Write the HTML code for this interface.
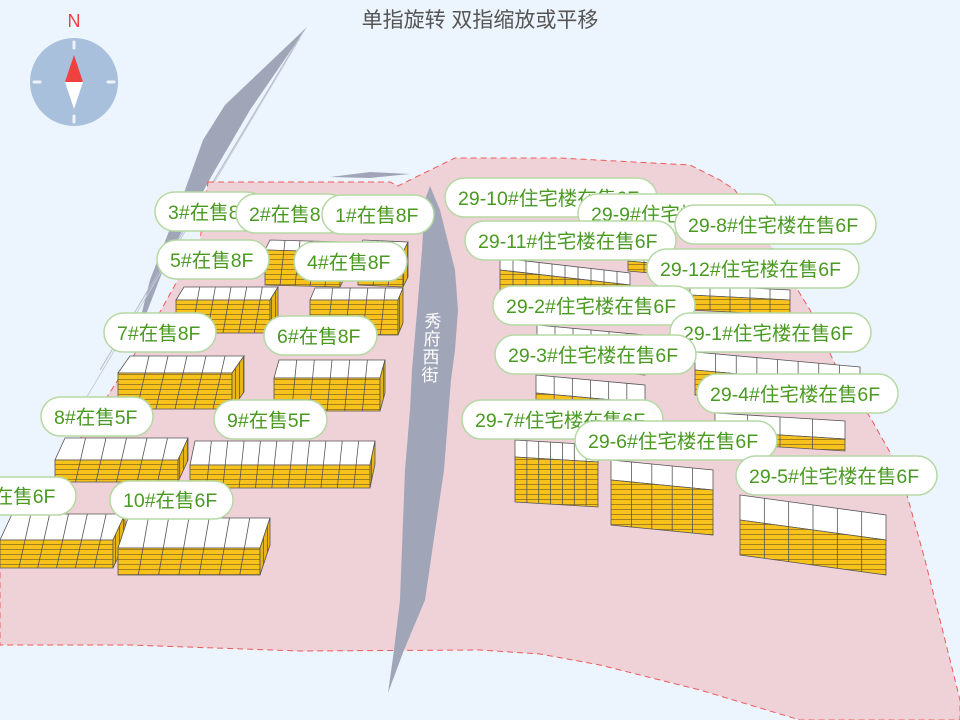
<!DOCTYPE html>
<html><head><meta charset="utf-8"><style>
html,body{margin:0;padding:0;background:#ecf4fd;}
svg{display:block;}
.lb rect{fill:#fff;stroke:#b5d9a4;stroke-width:1.5;}
.lb text{fill:#4a9a22;font-family:"Liberation Sans","Noto Sans CJK SC",sans-serif;font-size:19.5px;}
</style></head><body>
<svg id="s" width="960" height="720" viewBox="0 0 960 720" xmlns="http://www.w3.org/2000/svg">
<defs>
<pattern id="yl" width="20" height="5" patternUnits="userSpaceOnUse">
<rect width="20" height="5" fill="#f7c21c"/><line x1="0" y1="4.5" x2="20" y2="4.5" stroke="#8a6a20" stroke-width="0.8"/>
</pattern>
<pattern id="ys" width="4" height="5" patternUnits="userSpaceOnUse">
<rect width="4" height="5" fill="#e9b415"/><line x1="3.5" y1="0" x2="3.5" y2="5" stroke="#6a5a20" stroke-width="0.8"/>
</pattern>
</defs>
<rect width="960" height="720" fill="#ecf4fd"/>
<polygon points="307,27 250,110 215,170 190,215 165,265 140,330 135,340 150,280 185,190 203,140 225,105" fill="#a0a6b8"/>
<line x1="303" y1="32" x2="100" y2="370" stroke="#b5bccb" stroke-width="1"/>
<line x1="300" y1="38" x2="85" y2="400" stroke="#c5ccd8" stroke-width="1"/>
<polygon points="208,182 390,182 398,186 420,175 455,158 560,158 690,165 720,180 735,190 770,245 810,310 840,375 870,417 900,470 925,560 945,640 960,700 960,720 800,720 700,690 600,665 540,654 480,650 300,651 130,645 80,645 0,645 0,560 60,470 150,330 200,240" fill="#efd1d8" stroke="#ef5a5a" stroke-width="1" stroke-dasharray="6,4"/>
<polygon points="330,177 370,172 410,174 370,178" fill="#a0a6b8"/>
<polygon points="430,186 440,210 455,270 458,310 455,350 451,380 444,470 425,600 404,650 388,693 394,650 400,600 405,470 410,410 412,370 418,300 422,250 425,200" fill="#a0a6b8"/>
<g font-family="Liberation Sans,Noto Sans CJK SC,sans-serif" font-size="17" fill="#fff" text-anchor="middle">
<text x="433" y="327">秀</text><text x="432" y="345">府</text><text x="431" y="363">西</text><text x="430" y="381">街</text>
</g>
<g id="bld"></g>
<circle cx="74" cy="82" r="44" fill="#a8c0dc"/>
<g stroke="#eef3fa" stroke-width="3" stroke-linecap="round">
<line x1="74" y1="42" x2="74" y2="48"/><line x1="74" y1="116" x2="74" y2="122"/>
<line x1="34" y1="82" x2="40" y2="82"/><line x1="108" y1="82" x2="114" y2="82"/>
</g>
<polygon points="74,55 65,82 83,82" fill="#f04040"/>
<polygon points="74,109 65,82 83,82" fill="#fff"/>
<text x="74" y="27" text-anchor="middle" font-family="Liberation Sans,sans-serif" font-size="18" fill="#f04040">N</text>
<text x="480" y="27" text-anchor="middle" font-family="Liberation Sans,Noto Sans CJK SC,sans-serif" font-size="21" fill="#555">单指旋转 双指缩放或平移</text>
<g class="lb">
<rect x="155" y="192" width="112" height="39" rx="19.5"/><text x="168" y="219">3#在售8F</text>
<rect x="236" y="194" width="112" height="39" rx="19.5"/><text x="249" y="221">2#在售8F</text>
<rect x="322" y="195" width="112" height="39" rx="19.5"/><text x="335" y="222">1#在售8F</text>
<rect x="157" y="240" width="112" height="39" rx="19.5"/><text x="170" y="267">5#在售8F</text>
<rect x="294" y="242" width="113" height="39" rx="19.5"/><text x="307" y="269">4#在售8F</text>
<rect x="104" y="313" width="112" height="39" rx="19.5"/><text x="117" y="340">7#在售8F</text>
<rect x="264" y="316" width="113" height="39" rx="19.5"/><text x="277" y="343">6#在售8F</text>
<rect x="41" y="397" width="112" height="39" rx="19.5"/><text x="54" y="424">8#在售5F</text>
<rect x="214" y="400" width="113" height="39" rx="19.5"/><text x="227" y="427">9#在售5F</text>
<rect x="-40" y="477" width="116" height="38" rx="19"/><text x="-28" y="503">8#在售6F</text>
<rect x="110" y="481" width="123" height="38" rx="19"/><text x="123" y="507">10#在售6F</text>
<rect x="445" y="178" width="212" height="39" rx="19.5"/><text x="458" y="205">29-10#住宅楼在售6F</text>
<rect x="578" y="194" width="200" height="39" rx="19.5"/><text x="591" y="221">29-9#住宅楼在售6F</text>
<rect x="675" y="205" width="201" height="39" rx="19.5"/><text x="688" y="232">29-8#住宅楼在售6F</text>
<rect x="465" y="221" width="211" height="39" rx="19.5"/><text x="478" y="248">29-11#住宅楼在售6F</text>
<rect x="647" y="249" width="212" height="39" rx="19.5"/><text x="660" y="276">29-12#住宅楼在售6F</text>
<rect x="493" y="286" width="202" height="39" rx="19.5"/><text x="506" y="313">29-2#住宅楼在售6F</text>
<rect x="670" y="313" width="201" height="39" rx="19.5"/><text x="683" y="340">29-1#住宅楼在售6F</text>
<rect x="495" y="335" width="201" height="39" rx="19.5"/><text x="508" y="362">29-3#住宅楼在售6F</text>
<rect x="697" y="374" width="201" height="39" rx="19.5"/><text x="710" y="401">29-4#住宅楼在售6F</text>
<rect x="462" y="400" width="201" height="39" rx="19.5"/><text x="475" y="427">29-7#住宅楼在售6F</text>
<rect x="575" y="421" width="202" height="39" rx="19.5"/><text x="588" y="448">29-6#住宅楼在售6F</text>
<rect x="736" y="456" width="201" height="39" rx="19.5"/><text x="749" y="483">29-5#住宅楼在售6F</text>
</g>
</svg>
<script>
var B=[
[265,340,240,2,10,35,5,5],[358,403,240,2,10,35,5,3],[176,270,287,0,13,33,8,6],[310,398,288,0,12,35,5,5],
[118,232,356,0,17,36,12,6],[274,380,360,0,18,33,5,6],[55,178,438,0,22,22,10,6],[190,370,441,0,24,23,5,11],
[0,113,514,0,26,28,12,6],[118,260,518,0,30,27,10,7],
[500,630,258,15,12,25,0,10],[537,645,325,10,15,25,0,6],[536,645,375,10,18,25,0,6],[695,860,352,15,18,25,0,8],
[715,845,413,8,18,12,0,4],[515,598,440,5,17,45,0,7],[611,713,460,10,20,45,0,5],[740,886,495,20,25,35,0,6],
[690,790,285,5,10,15,0,5],[628,660,255,3,6,10,0,2]
];
var g=document.getElementById('bld'),h='';
B.forEach(function(b){var x1=b[0],x2=b[1],yt=b[2],dy=b[3],th=b[4],fh=b[5],s=b[6],n=b[7];
var yb=yt+th;
h+='<polygon points="'+(x1+s)+','+yt+' '+(x2+s)+','+(yt+dy)+' '+x2+','+(yb+dy)+' '+x1+','+yb+'" fill="#fff" stroke="#555" stroke-width="0.8"/>';
h+='<polygon points="'+x1+','+yb+' '+x2+','+(yb+dy)+' '+x2+','+(yb+dy+fh)+' '+x1+','+(yb+fh)+'" fill="url(#yl)" stroke="#555" stroke-width="0.8"/>';
if(s>0)h+='<polygon points="'+x2+','+(yb+dy)+' '+(x2+s)+','+(yt+dy)+' '+(x2+s)+','+(yt+dy+fh)+' '+x2+','+(yb+dy+fh)+'" fill="url(#ys)" stroke="#555" stroke-width="0.8"/>';
for(var i=1;i<n;i++){var x=x1+(x2-x1)*i/n,yy=yb+dy*i/n;
h+='<line x1="'+(x+s)+'" y1="'+(yt+dy*i/n)+'" x2="'+x+'" y2="'+(yy+fh)+'" stroke="#555" stroke-width="0.8"/>';}
});
g.innerHTML=h;
</script>
</body></html>
